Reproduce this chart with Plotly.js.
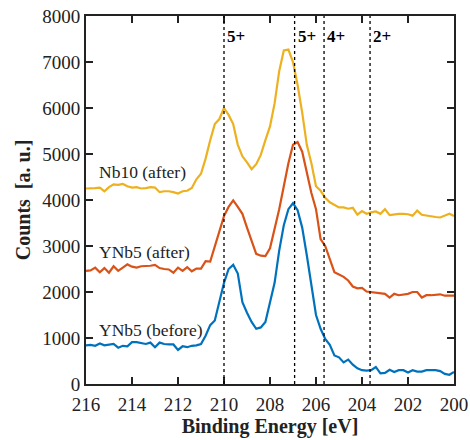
<!DOCTYPE html>
<html>
<head>
<meta charset="utf-8">
<script src="https://cdn.plot.ly/plotly-3.0.1.min.js"></script>
<style>html,body{margin:0;padding:0;background:#fff;}#chart{width:470px;height:440px;}</style>
</head>
<body>
<div id="chart"></div>
<script>
// Binding energy [eV]
const energy = [216.0,215.8,215.6,215.4,215.2,215.0,214.8,214.6,214.4,214.2,214.0,213.8,213.6,213.4,213.2,213.0,212.8,212.6,212.4,212.2,212.0,211.8,211.6,211.4,211.2,211.0,210.8,210.6,210.4,210.2,210.0,209.8,209.6,209.4,209.2,209.0,208.8,208.6,208.4,208.2,208.0,207.8,207.6,207.4,207.2,207.0,206.8,206.6,206.4,206.2,206.0,205.8,205.6,205.4,205.2,205.0,204.8,204.6,204.4,204.2,204.0,203.8,203.6,203.4,203.2,203.0,202.8,202.6,202.4,202.2,202.0,201.8,201.6,201.4,201.2,201.0,200.8,200.6,200.4,200.2,200.0];

const nb10After = [4250,4250,4260,4270,4190,4280,4340,4330,4350,4300,4270,4280,4250,4260,4280,4270,4170,4190,4190,4170,4140,4190,4200,4260,4450,4570,4900,5300,5650,5760,6000,5850,5650,5200,4950,4820,4670,4780,4980,5300,5600,6100,6800,7250,7270,7000,6500,5900,5200,4800,4300,4200,4050,3950,3900,3840,3840,3810,3830,3680,3760,3700,3730,3750,3700,3800,3670,3690,3700,3700,3690,3660,3770,3680,3660,3650,3630,3620,3660,3700,3650];

const ynb5After = [2460,2470,2530,2430,2520,2420,2560,2460,2530,2600,2550,2530,2560,2560,2570,2590,2520,2500,2490,2420,2530,2460,2540,2450,2510,2510,2670,2660,3000,3350,3650,3850,3990,3850,3700,3400,3100,2830,2790,2780,2950,3350,3800,4300,4800,5200,5260,5050,4600,4150,3800,3150,3000,2700,2430,2380,2330,2250,2120,2080,2090,2010,2000,1990,1980,1960,1880,1960,1930,1950,1960,2000,2000,1880,1930,1930,1940,1950,1920,1920,1920];

const ynb5Before = [840,850,830,880,840,860,870,790,830,820,910,910,890,870,900,800,900,870,860,860,740,820,800,830,840,870,1050,1280,1380,1800,2200,2500,2590,2400,1780,1550,1350,1200,1230,1350,1800,2200,2900,3450,3800,3930,3780,3400,2800,2150,1500,1200,980,850,620,580,470,530,420,340,300,290,300,370,230,240,310,260,300,300,250,300,270,270,300,300,300,280,220,200,260];

const seriesNames = ['YNb5 (before)','YNb5 (after)','Nb10 (after)'];
const seriesColors = ['#0072BD','#D95319','#EDB120'];
const labelY = [1174, 2870, 4609];
const labelX = 215.52;

const refLines = [210.0, 206.93, 205.65, 203.65];
const refLabels = ['5+','5+','4+','2+'];
const refLabelY = 7565;

const font = '"Times New Roman", "Liberation Serif", "DejaVu Serif", serif';
const ys = [ynb5Before, ynb5After, nb10After];

const traces = ys.map((y, i) => ({
  x: energy, y: y, type: 'scatter', mode: 'lines', name: seriesNames[i],
  line: {color: seriesColors[i], width: 2.2}, hoverinfo: 'skip'
}));

const shapes = refLines.map(v => ({
  type: 'line', xref: 'x', yref: 'paper', x0: v, x1: v, y0: 0, y1: 1,
  line: {color: '#000', width: 1.3, dash: 'dot'}, layer: 'above'
}));

const annotations = [];
refLines.forEach((v, i) => annotations.push({
  x: v, y: refLabelY, xref: 'x', yref: 'y', text: '<b>' + refLabels[i] + '</b>',
  showarrow: false, xanchor: 'left', yanchor: 'middle', xshift: 1,
  font: {family: font, size: 17, color: '#000'}
}));
seriesNames.forEach((n, i) => annotations.push({
  x: labelX, y: labelY[i], xref: 'x', yref: 'y', text: n, showarrow: false,
  xanchor: 'left', yanchor: 'middle', font: {family: font, size: 17.5, color: '#222'}
}));

const layout = {
  width: 470, height: 440,
  margin: {l: 86, r: 16, t: 16, b: 56},
  paper_bgcolor: '#fff', plot_bgcolor: '#fff',
  showlegend: false,
  font: {family: font, size: 18, color: '#222'},
  xaxis: {
    range: [216, 200], dtick: 2, tick0: 200, ticks: 'inside', ticklen: 7, tickwidth: 2,
    tickcolor: '#222', showline: true, linecolor: '#222', linewidth: 2, mirror: 'ticks',
    showgrid: false, zeroline: false, ticklabelstandoff: 2,
    tickfont: {family: font, size: 19, color: '#222'},
    title: {text: '<b>Binding Energy [eV]</b>', font: {family: font, size: 20, color: '#222'}, standoff: 4}
  },
  yaxis: {
    range: [0, 8000], dtick: 1000, ticks: 'inside', ticklen: 7, tickwidth: 2,
    tickcolor: '#222', showline: true, linecolor: '#222', linewidth: 2, mirror: 'ticks',
    showgrid: false, zeroline: false,
    tickfont: {family: font, size: 19, color: '#222'},
    title: {text: '<b>Counts  [a. u.]</b>', font: {family: font, size: 20, color: '#222'}, standoff: 6}
  },
  shapes: shapes,
  annotations: annotations
};

Plotly.newPlot('chart', traces, layout, {staticPlot: true, displayModeBar: false});
</script>
</body>
</html>
